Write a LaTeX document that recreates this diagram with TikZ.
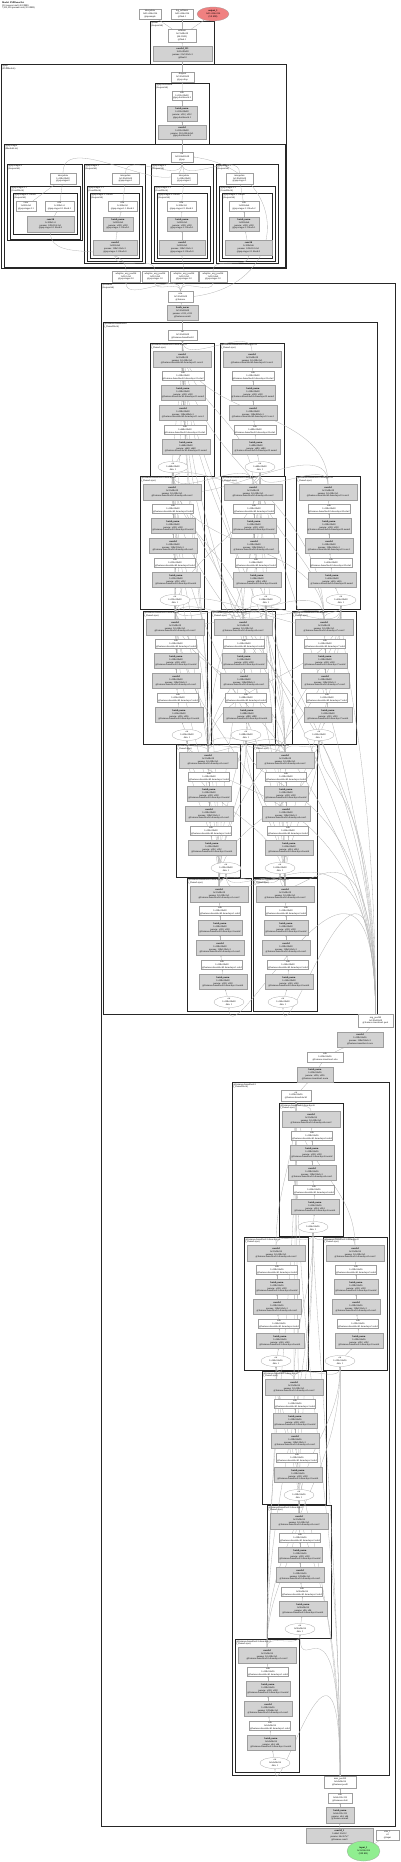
\documentclass[tikz,border=0pt]{standalone}
\usepackage{fontspec}
\setmainfont{Liberation Serif}
\usetikzlibrary{shapes.geometric,arrows.meta,positioning}

\pgfdeclarelayer{bg}
\pgfdeclarelayer{edges}
\pgfsetlayers{bg,edges,main}

\definecolor{outred}{HTML}{F08080}
\definecolor{inpgreen}{HTML}{90EE90}
\newcommand{\tinyfont}{\fontsize{2.4}{2.9}\selectfont}

\tikzset{
  wbox/.style={rectangle, draw=black!38, fill=white, line width=0.25pt, inner sep=0.2pt, align=center, font=\tinyfont},
  gbox/.style={wbox, fill=gray!35},
  cnode/.style={wbox, ellipse, inner sep=0pt},
  grp/.style={rectangle, draw=black!85, line width=0.7pt, anchor=north west, inner sep=0pt},
  glabel/.style={anchor=north west, inner sep=0.3pt, align=left, font=\tinyfont},
  lnk/.style={draw=gray!60, line width=0.3pt, -{Stealth[length=1.4pt,width=1.1pt]}},
}

% plain node at pixel position: [style]{name}{x}{y}{w}{h}{text}
\newcommand{\nd}[7][wbox]{\node[#1, minimum width=#5pt, minimum height=#6pt] (#2) at (#3,-#4) {#7};}

% module box: {name}{x1}{y1}{x2}{y2}{label}
\newcommand{\cluster}[6]{%
  \begin{pgfonlayer}{bg}
    \node[grp, minimum width={#4pt-#2pt}, minimum height={#5pt-#3pt}] (#1) at (#2,-#3) {};
  \end{pgfonlayer}
  \node[glabel] (#1-lbl) at (#2+0.8,-#3-0.8) {#6};}

% one dense layer: {name}{x}{y}{cat x}{address}{size}{channels}
\newcommand{\dlayer}[7]{%
  \begin{scope}[shift={(#2,-#3)}]
    \begin{pgfonlayer}{bg}
      \node[grp, minimum width=64pt, minimum height=133pt] (#1) at (0,0) {};
    \end{pgfonlayer}
    \node[glabel] (#1-lbl) at (0.8,-0.8) {@#5\\(\_DenseLayer)};
    \node[gbox, minimum width=58pt, minimum height=16pt] (#1-c2) at (32,-16) {\textbf{conv2d}\\1x32x#6\\params: 32x128x3x3\\@#5.conv2};
    \node[wbox, minimum width=41pt, minimum height=9pt] (#1-r2) at (33,-33) {relu\\1x128x#6\\@#5.relu2};
    \node[gbox, minimum width=44pt, minimum height=15pt] (#1-n2) at (33,-50) {\textbf{batch\_norm}\\1x128x#6\\params: x128, x128\\@#5.norm2};
    \node[gbox, minimum width=48pt, minimum height=15pt] (#1-c1) at (33,-70) {\textbf{conv2d}\\1x128x#6\\params: 128x#7x1x1\\@#5.conv1};
    \node[wbox, minimum width=41pt, minimum height=9pt] (#1-r1) at (35,-87) {relu\\1x#7x#6\\@#5.relu1};
    \node[gbox, minimum width=48pt, minimum height=15pt] (#1-n1) at (36,-104) {\textbf{batch\_norm}\\1x#7x#6\\params: x#7, x#7\\@#5.norm1};
    \node[cnode, minimum width=30pt, minimum height=11pt] (#1-e) at (#4,-124) {cat\\1x#7x#6\\dim: 1};
  \end{scope}
  \begin{pgfonlayer}{edges}
    \draw[lnk] (#1-e) -- (#1-n1);
    \draw[lnk] (#1-n1) -- (#1-r1);
    \draw[lnk] (#1-r1) -- (#1-c1);
    \draw[lnk] (#1-c1) -- (#1-n2);
    \draw[lnk] (#1-n2) -- (#1-r2);
    \draw[lnk] (#1-r2) -- (#1-c2);
  \end{pgfonlayer}}

\begin{document}
\begin{tikzpicture}[x=1pt,y=1pt]
  \useasboundingbox (0,0) rectangle (400,-1862);

  \node[glabel] (title) at (1.5,-1) {\textbf{Model: PSPDenseNet}\\130 tensors total (43.8 MB)\\7,912,256 params total (30.4 MB)};

  % outputs
  \nd{outa}{150}{14}{22}{10}{interpolate\\1x21x224x224\\@upsample}
  \nd{outb}{182}{14}{22}{10}{log\_softmax\\1x21x224x224\\@final.1}
  \nd[cnode, fill=outred]{outR}{213}{14}{32}{14}{\textbf{output\_1}\\1x21x224x224\\(9.8 MB)}

  % final head
  \cluster{final}{150}{21}{214}{64}{@final\\(Sequential)}
  \nd{fin1}{182}{35.5}{28}{13}{softmax\\1x21x28x28\\(64.3 KB)\\@final.1}
  \nd[gbox]{fin2}{182.5}{53.5}{59}{15}{\textbf{conv2d\_121}\\1x21x28x28\\params: 21x512x1x1\\@final.0}

  % pyramid pooling
  \cluster{psp}{1}{64}{286}{268}{@psp\\(PSPModule)}
  \nd{pspdrop}{182.5}{77}{23}{10}{dropout\\1x512x28x28\\@psp.drop}
  \cluster{bott}{155}{83}{209}{144}{@psp.bottleneck\\(Sequential)}
  \nd{brelu}{182}{95.5}{20}{9}{relu\\1x512x28x28\\@psp.bottleneck.2}
  \nd[gbox]{bnorm}{182}{113.5}{30}{15}{\textbf{batch\_norm}\\1x512x28x28\\params: x512, x512\\@psp.bottleneck.1}
  \nd[gbox]{bconv}{182}{132}{48}{14}{\textbf{conv2d}\\1x512x28x28\\params: 512x1024x3x3\\@psp.bottleneck.0}

  \cluster{stages}{4}{144}{285}{267}{@psp.stages\\(ModuleList)}
  \nd{pcat}{182}{157}{22}{10}{cat\\1x1024x28x28\\@psp}

  \cluster{st0}{7}{164}{82}{240}{@psp.stages.0\\(Sequential)}
  \nd{st0-up}{63}{178.5}{26}{11}{interpolate\\1x128x28x28\\@psp.stages.0}
  \cluster{st0-blk}{10}{186}{80}{239}{@psp.stages.0.1\\(ConvBlock)}
  \cluster{st0-in}{13}{193}{77}{234}{@psp.stages.0.1.block\\(Sequential)}
  \nd{st0-w1}{26}{206}{20}{10}{view\\1x128x1x1\\@psp.stages.0.1}
  \nd{st0-w2}{59.5}{206}{29}{10}{relu\\1x128x1x1\\@psp.stages.0.1.block.1}
  \nd[gbox]{st0-cv}{50.5}{224}{47}{16}{\textbf{conv2d}\\1x128x1x1\\params: 128x512x1x1\\@psp.stages.0.1.block.0}

  \cluster{st1}{84}{164}{145}{263}{@psp.stages.1\\(Sequential)}
  \nd{st1-up}{125.5}{178.5}{27}{11}{interpolate\\1x128x28x28\\@psp.stages.1}
  \cluster{st1-blk}{87}{186}{142}{261}{@psp.stages.1.1\\(ConvBlock)}
  \cluster{st1-in}{90}{193}{139}{258}{@psp.stages.1.1.block\\(Sequential)}
  \nd{st1-re}{122.5}{206}{29}{10}{relu\\1x128x2x2\\@psp.stages.1.1.block.2}
  \nd[gbox]{st1-bn}{118}{224}{30}{14}{\textbf{batch\_norm}\\1x128x2x2\\params: x128, x128\\@psp.stages.1.1.block.1}
  \nd[gbox]{st1-cv}{115}{247.5}{44}{15}{\textbf{conv2d}\\1x128x2x2\\params: 128x512x1x1\\@psp.stages.1.1.block.0}

  \cluster{st2}{151}{164}{213}{263}{@psp.stages.2\\(Sequential)}
  \nd{st2-up}{184}{178.5}{26}{11}{interpolate\\1x128x28x28\\@psp.stages.2}
  \cluster{st2-blk}{154}{186}{210}{261}{@psp.stages.2.1\\(ConvBlock)}
  \cluster{st2-in}{157}{193}{207}{258}{@psp.stages.2.1.block\\(Sequential)}
  \nd{st2-re}{181.5}{206}{29}{10}{relu\\1x128x3x3\\@psp.stages.2.1.block.2}
  \nd[gbox]{st2-bn}{182}{224}{30}{14}{\textbf{batch\_norm}\\1x128x3x3\\params: x128, x128\\@psp.stages.2.1.block.1}
  \nd[gbox]{st2-cv}{182}{247.5}{46}{15}{\textbf{conv2d}\\1x128x3x3\\params: 128x512x1x1\\@psp.stages.2.1.block.0}

  \cluster{st3}{216}{164}{278}{263}{@psp.stages.3\\(Sequential)}
  \nd{st3-up}{239.5}{178.5}{27}{11}{interpolate\\1x128x28x28\\@psp.stages.3}
  \cluster{st3-blk}{219}{186}{275}{261}{@psp.stages.3.1\\(ConvBlock)}
  \cluster{st3-in}{222}{193}{272}{258}{@psp.stages.3.1.block\\(Sequential)}
  \nd{st3-re}{244}{206}{30}{10}{relu\\1x128x6x6\\@psp.stages.3.1.block.2}
  \nd[gbox]{st3-bn}{244}{224}{30}{14}{\textbf{batch\_norm}\\1x128x6x6\\params: x128, x128\\@psp.stages.3.1.block.1}
  \nd[gbox]{st3-cv}{248.5}{247.5}{47}{15}{\textbf{conv2d}\\1x128x6x6\\params: 128x512x1x1\\@psp.stages.3.1.block.0}

  \nd{pp0}{126}{276.5}{28}{11}{adaptive\_avg\_pool2d\\1x512x1x1\\@psp.stages.0.0}
  \nd{pp1}{155}{276.5}{26}{11}{adaptive\_avg\_pool2d\\1x512x2x2\\@psp.stages.1.0}
  \nd{pp2}{184}{276.5}{28}{11}{adaptive\_avg\_pool2d\\1x512x3x3\\@psp.stages.2.0}
  \nd{pp3}{213}{276.5}{28}{11}{adaptive\_avg\_pool2d\\1x512x6x6\\@psp.stages.3.0}

  % backbone
  \cluster{feat}{101}{283}{395}{1826}{@features\\(Sequential)}
  \nd{relu5}{180.5}{296.5}{25}{11}{relu\\1x512x28x28\\@features}
  \nd[gbox]{norm5}{182.5}{312.5}{31}{15}{\textbf{batch\_norm}\\1x512x28x28\\params: x512, x512\\@features.norm5}

  \cluster{dbB}{103}{322}{377}{1014}{@features.denseblock2\\(\_DenseBlock)}
  \nd{catB}{182.5}{335}{29}{9.5}{cat\\1x512x28x28\\@features.denseblock2}
  \dlayer{bK}{187}{878}{42}{features.denseblock2.denselayer1}{28x28}{128}
  \dlayer{bL}{253}{878}{30}{features.denseblock2.denselayer2}{28x28}{160}
  \dlayer{bI}{176}{744}{50}{features.denseblock2.denselayer3}{28x28}{192}
  \dlayer{bJ}{253}{744}{27}{features.denseblock2.denselayer4}{28x28}{224}
  \dlayer{bF}{143}{611}{44}{features.denseblock2.denselayer5}{28x28}{256}
  \dlayer{bG}{211}{611}{35}{features.denseblock2.denselayer6}{28x28}{288}
  \dlayer{bH}{292}{611}{27}{features.denseblock2.denselayer7}{28x28}{320}
  \dlayer{bC}{140}{476}{35}{features.denseblock2.denselayer8}{28x28}{352}
  \dlayer{bD}{221}{476}{45}{features.denseblock2.denselayer9}{28x28}{384}
  \dlayer{bE}{296}{476}{45}{features.denseblock2.denselayer10}{28x28}{416}
  \dlayer{bA}{150}{343}{23}{features.denseblock2.denselayer11}{28x28}{448}
  \dlayer{bB}{220}{343}{40}{features.denseblock2.denselayer12}{28x28}{480}

  \nd{tpool}{375.5}{1020.5}{35}{13}{avg\_pool2d\\1x128x28x28\\@features.transition1.pool}
  \nd[gbox]{tconv}{360}{1039.5}{46}{15}{\textbf{conv2d}\\1x128x56x56\\params: 128x256x1x1\\@features.transition1.conv}
  \nd{trelu}{325}{1057}{36}{10}{relu\\1x256x56x56\\@features.transition1.relu}
  \nd[gbox]{tnorm}{315}{1074.5}{36}{15}{\textbf{batch\_norm}\\1x256x56x56\\params: x256, x256\\@features.transition1.norm}

  \cluster{dbA}{232}{1082}{389}{1775}{@features.denseblock1\\(\_DenseBlock)}
  \nd{catA}{296}{1095.5}{30}{11}{cat\\1x256x56x56\\@features.denseblock1}
  \dlayer{aQ}{235}{1639}{40}{features.denseblock1.denselayer1}{56x56}{64}
  \dlayer{aP}{267}{1505}{33}{features.denseblock1.denselayer2}{56x56}{96}
  \dlayer{aO}{262}{1371}{37}{features.denseblock1.denselayer3}{56x56}{128}
  \dlayer{aM}{244}{1237}{32}{features.denseblock1.denselayer4}{56x56}{160}
  \dlayer{aN}{323}{1237}{17}{features.denseblock1.denselayer5}{56x56}{192}
  \dlayer{aL}{279}{1103}{34}{features.denseblock1.denselayer6}{56x56}{224}

  \nd{pool0}{340}{1782}{32}{12}{max\_pool2d\\1x64x56x56\\@features.pool0}
  \nd{relu0}{340}{1798}{24}{10}{relu\\1x64x112x112\\@features.relu0}
  \nd[gbox]{norm0}{340}{1815}{28}{16}{\textbf{batch\_norm}\\1x64x112x112\\params: x64, x64\\@features.norm0}

  % stem and input
  \nd[gbox]{conv0}{339.5}{1835.5}{67}{15}{\textbf{conv2d\_1}\\1x64x112x112\\params: 64x3x7x7\\@features.conv0}
  \nd{xsize}{387.5}{1835}{23}{10}{size\_1\\x2\\@input}
  \nd[cnode, fill=inpgreen]{inp}{363.5}{1851}{33}{20}{\textbf{input\_1}\\1x3x224x224\\(588 KB)}

  \begin{pgfonlayer}{edges}
    % stem
    \draw[lnk] (inp) -- (conv0);
    \draw[lnk] (inp) -- (xsize);
    \draw[lnk] (conv0) -- (norm0);
    \draw[lnk] (norm0) -- (relu0);
    \draw[lnk] (relu0) -- (pool0);
    % denseblock1
    \foreach \t in {aQ,aP,aO,aM,aN,aL}
      \draw[lnk] (pool0.north) .. controls +(0,200) and +(0,-50) .. (\t-e.south);
    \draw[lnk] (pool0.north) .. controls +(0,300) and +(0,-300) .. (catA.south);
    \foreach \t in {aP,aO,aM,aN,aL}
      \draw[lnk] (aQ-c2.north) to[out=90,in=-90] (\t-e.south);
    \foreach \t in {aO,aM,aN,aL}
      \draw[lnk] (aP-c2.north) to[out=90,in=-90] (\t-e.south);
    \foreach \t in {aM,aN,aL}
      \draw[lnk] (aO-c2.north) to[out=90,in=-90] (\t-e.south);
    \foreach \s in {aM,aN}
      \draw[lnk] (\s-c2.north) to[out=90,in=-90] (aL-e.south);
    \foreach \s in {aQ,aP,aO,aM,aN,aL}
      \draw[lnk] (\s-c2.north) to[out=90,in=-90] (catA.south);
    % transition
    \draw[lnk] (catA) -- (tnorm);
    \draw[lnk] (tnorm) -- (trelu);
    \draw[lnk] (trelu) -- (tconv);
    \draw[lnk] (tconv) -- (tpool);
    % denseblock2
    \foreach \t in {bK,bL,bI,bJ,bF,bG,bH,bC,bD,bE,bA,bB}
      \draw[lnk] (tpool.north) .. controls +(0,250) and +(0,-60) .. (\t-e.south);
    \draw[lnk] (tpool.north) .. controls +(0,400) and +(0,-400) .. (catB.south);
    \foreach \s in {bK,bL}
      \foreach \t in {bI,bJ,bF,bG,bH,bC,bD,bE,bA,bB}
        \draw[lnk] (\s-c2.north) to[out=90,in=-90] (\t-e.south);
    \foreach \s in {bI,bJ}
      \foreach \t in {bF,bG,bH,bC,bD,bE,bA,bB}
        \draw[lnk] (\s-c2.north) to[out=90,in=-90] (\t-e.south);
    \foreach \s in {bF,bG,bH}
      \foreach \t in {bC,bD,bE,bA,bB}
        \draw[lnk] (\s-c2.north) to[out=90,in=-90] (\t-e.south);
    \foreach \s in {bC,bD,bE}
      \foreach \t in {bA,bB}
        \draw[lnk] (\s-c2.north) to[out=90,in=-90] (\t-e.south);
    \foreach \s in {bK,bL,bI,bJ,bF,bG,bH,bC,bD,bE,bA,bB}
      \draw[lnk] (\s-c2.north) to[out=90,in=-90] (catB.south);
    \draw[lnk] (catB) -- (norm5);
    \draw[lnk] (norm5) -- (relu5);
    % pyramid pooling
    \foreach \i in {0,...,3}
      \draw[lnk] (relu5.north) to[out=90,in=-90] (pp\i.south);
    \draw[lnk] (relu5.east) .. controls (292,-285) and (292,-170) .. (pcat.east);
    \draw[lnk] (pp0.north) to[out=90,in=-90] (st0-cv.south);
    \draw[lnk] (st0-cv) -- (st0-w2);
    \draw[lnk] (st0-w2) -- (st0-up);
    \draw[lnk] (st0-w1) -- (st0-up);
    \foreach \i in {1,2,3} {
      \draw[lnk] (pp\i.north) to[out=90,in=-90] (st\i-cv.south);
      \draw[lnk] (st\i-cv) -- (st\i-bn);
      \draw[lnk] (st\i-bn) -- (st\i-re);
      \draw[lnk] (st\i-re) -- (st\i-up);
    }
    \foreach \i in {0,...,3}
      \draw[lnk] (st\i-up.north) to[out=90,in=-90] (pcat.south);
    \draw[lnk] (pcat) -- (bconv);
    \draw[lnk] (bconv) -- (bnorm);
    \draw[lnk] (bnorm) -- (brelu);
    \draw[lnk] (brelu) -- (pspdrop);
    \draw[lnk] (pspdrop) -- (fin2);
    \draw[lnk] (fin2) -- (fin1);
    % outputs
    \draw[lnk] (fin1) -- (outa);
    \draw[lnk] (fin1) -- (outb);
    \draw[lnk] (fin1) -- (outR);
  \end{pgfonlayer}
\end{tikzpicture}
\end{document}
